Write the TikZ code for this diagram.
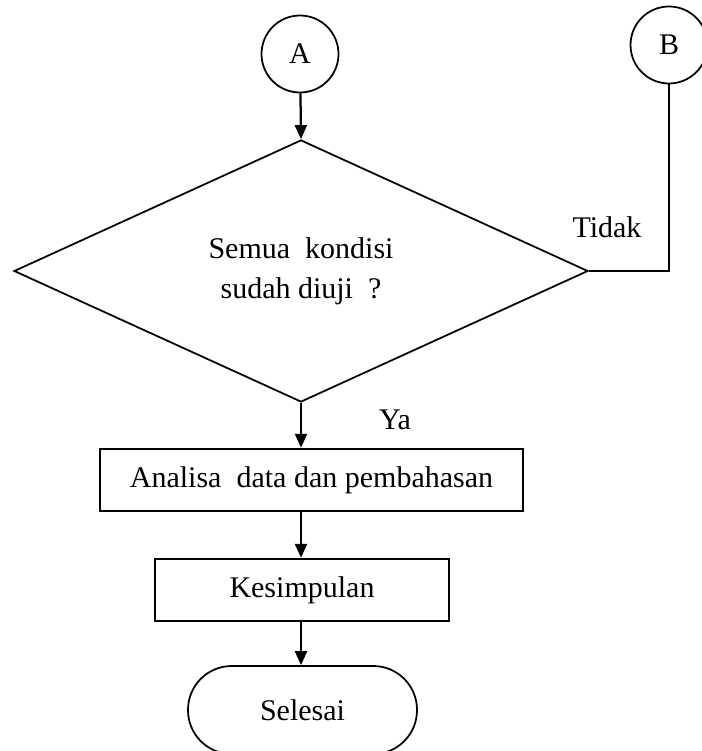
\documentclass[tikz,border=0pt]{standalone}
\usepackage{fontspec}
\setmainfont{Liberation Serif}
\usetikzlibrary{arrows.meta,shapes.geometric}

\tikzset{
	every node/.style={font=\fontsize{12}{16}\selectfont},
	konektor/.style={draw, circle, line width=0.7pt, minimum size=30.8pt, inner sep=0pt},
	keputusan/.style={draw, diamond, line width=0.7pt, minimum width=229.6pt, minimum height=104.8pt, inner sep=0pt, align=center},
	proses/.style={draw, rectangle, line width=1pt, minimum height=24.8pt, inner sep=0pt},
	terminal/.style={draw, rectangle, rounded corners=17.5pt, line width=0.7pt, minimum width=91.6pt, minimum height=35.2pt, inner sep=0pt},
	panah/.style={-{Triangle[length=5.6pt,width=4.8pt]}, line width=0.9pt}
}

\begin{document}
\begin{tikzpicture}[x=0.4pt,y=-0.4pt]
			\useasboundingbox (0,0) rectangle (701,751);
			\node[konektor] (a) at (300,54) {A};
			\node[konektor] (b) at (669,45) {B};
			\node[keputusan] (dm) at (301,271) {Semua\ \ kondisi\\sudah diuji\ \ ?};
			\node[proses, minimum width=169.2pt] (an) at (311.5,480) {Analisa\ \ data dan pembahasan};
			\node[proses, minimum width=117.6pt] (ks) at (302,590) {Kesimpulan};
			\node[terminal] (sl) at (302.5,710) {Selesai};
			\node (ya) at (395,420) {Ya};
			\node (td) at (607,227) {Tidak};
			\path[panah]
			(a) edge (dm.north)
			(dm.south) edge (dm.south |- an.north)
			(dm.south |- an.south) edge (dm.south |- ks.north)
			(dm.south |- ks.south) edge (dm.south |- sl.north);
			\draw[line width=0.8pt] (b.south) |- (dm.east);
		\end{tikzpicture}
\end{document}
